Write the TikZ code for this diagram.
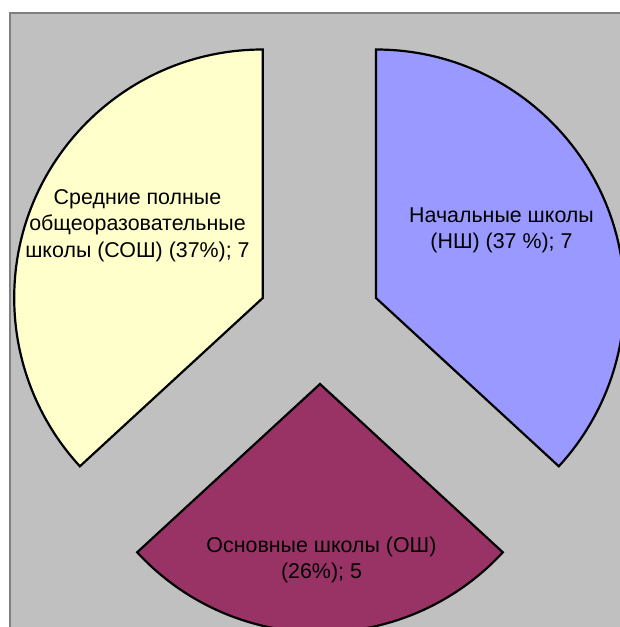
\documentclass[tikz,border=0pt]{standalone}
\usepackage{fontspec}
\setmainfont{Liberation Sans}
\definecolor{plotgray}{HTML}{C0C0C0}
\definecolor{framegray}{HTML}{808080}
\definecolor{sliceyellow}{HTML}{FFFFCC}
\definecolor{sliceblue}{HTML}{9999FF}
\definecolor{slicepurple}{HTML}{993366}
\begin{document}
\begin{tikzpicture}[x=1pt,y=-1pt,
  slice/.style={draw=black,line width=2.2pt,line join=miter},
  lbl/.style={align=center,anchor=base,inner sep=0pt,font=\fontsize{21.4}{26.5}\selectfont}]
\useasboundingbox (0,0) rectangle (620,627);
\fill[white] (0,0) rectangle (620,627);
\fill[plotgray] (10,12) rectangle (620,627);
\draw[framegray,line width=2pt] (10,627) -- (10,13) -- (620,13);
\begin{scope}
\clip (11,14) rectangle (620,627);
% blue slice (NSh)
\coordinate (cb) at (376,298);
\draw[slice,fill=sliceblue] (cb) -- ++(-90:248.5) arc[start angle=-90,end angle=42.63,radius=248.5] -- cycle;
% yellow slice (SOSh)
\coordinate (cy) at (262.7,298);
\draw[slice,fill=sliceyellow] (cy) -- ++(-90:248.5) arc[start angle=-90,end angle=-222.63,radius=248.5] -- cycle;
% purple slice (OSh)
\coordinate (cp) at (320,384);
\draw[slice,fill=slicepurple] (cp) -- ++(-222.63:248.5) arc[start angle=-222.63,end angle=-317.37,radius=248.5] -- cycle;
\end{scope}
\node[lbl] (tnsh) at (501.5,248.5) {Начальные школы\\(НШ) (37 \%); 7};
\node[lbl] (tsosh) at (137.5,257) {Средние полные\\общеоразовательные\\школы (СОШ) (37\%); 7};
\node[lbl] (tosh) at (321.5,578.5) {Основные школы (ОШ)\\(26\%); 5};
\end{tikzpicture}
\end{document}
